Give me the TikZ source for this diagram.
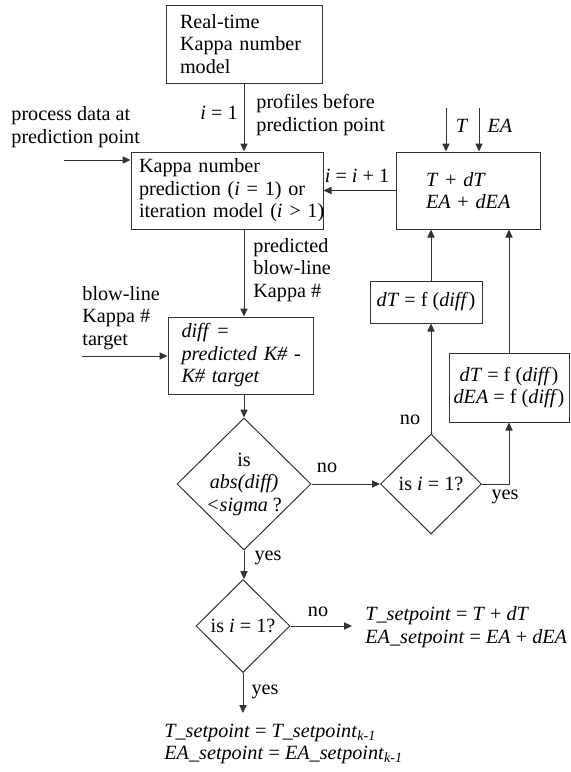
\documentclass[tikz,border=0pt]{standalone}
\usepackage{fontspec}
\setmainfont{Liberation Serif}
\usetikzlibrary{arrows.meta,calc,positioning,shapes.geometric}

\begin{document}
\begin{tikzpicture}[x=0.5pt,y=-0.5pt,
  font=\fontsize{10.1}{11.25}\selectfont,
  blk/.style={draw=black!80,line width=0.5pt,inner sep=0pt,align=left},
  dia/.style={draw=black!80,line width=0.5pt,shape=diamond,aspect=1,inner sep=-2pt,align=center},
  lbl/.style={inner sep=0pt,align=left},
  flow/.style={draw=black!80,line width=0.5pt,-{Triangle[length=4pt,width=3.6pt]}}]
  \useasboundingbox (0,0) rectangle (571,772);
  % boxes
  \node[blk,minimum width=78pt,minimum height=39pt,text width=64pt] (model) at (244,44) {Real-time\\\mbox{Kappa number}\\model};
  \node[blk,minimum width=96pt,minimum height=38.5pt,text width=88pt] (kappa) at (227,190.5) {Kappa number\\\mbox{prediction (\textit{i} = 1) or}\\\mbox{iteration model (\textit{i} > 1)}};
  \node[blk,minimum width=72pt,minimum height=38.5pt,text width=42pt] (upd) at (468,190.5) {\mbox{\textit{T} + \textit{dT}}\\\mbox{\textit{EA} + \textit{dEA}}};
  \node[blk,minimum width=72.5pt,minimum height=38.5pt,text width=59pt] (diff) at (240.5,355.5) {\textit{diff} =\\\mbox{\textit{predicted K\# -}}\\\textit{K\# target}};
  \node[blk,align=center,minimum width=56pt,minimum height=21pt] (dT) at (426,302) {\textit{dT} = f (\textit{diff})};
  \node[blk,align=center,minimum width=60pt,minimum height=34.5pt] (dTdEA) at (509,387.5) {\textit{dT} = f (\textit{diff})\\\textit{dEA} = f (\textit{diff})};
  % decisions
  \node[dia,minimum width=67pt,minimum height=66pt] (chk) at (244,484) {is\\\textit{abs(diff)}\\\textit{<sigma} ?};
  \node[dia,minimum width=50.5pt,minimum height=50pt] (first) at (431,484) {is \textit{i} = 1?};
  \node[dia,minimum width=47pt,minimum height=46.5pt] (last) at (243,626) {is \textit{i} = 1?};
  % free ends
  \coordinate (pd) at (64,160);
  \coordinate (bl) at (82,356);
  \coordinate (setp) at (352,626);
  \coordinate (hold) at (243,713);
  \foreach \x/\n in {446/tin,479/eain} \coordinate (\n) at (\x,108);
  % connectors
  \draw[flow] (model.south) -- (model.south |- kappa.north);
  \draw[flow] (pd) -- (pd -| kappa.west);
  \draw[flow] (upd.west) -- (kappa.east);
  \foreach \n in {tin,eain} \draw[flow] (\n) -- (\n |- upd.north);
  \draw[flow] (model.south |- kappa.south) -- (model.south |- diff.north);
  \draw[flow] (bl) -- (bl -| diff.west);
  \draw[flow] (chk.north |- diff.south) -- (chk.north);
  \draw[flow] (chk.east) -- (first.west);
  \draw[flow] (first.north) -- (first.north |- dT.south);
  \draw[flow] (first.north |- dT.north) -- (first.north |- upd.south);
  \draw[flow] (first.east) -| (dTdEA.south);
  \draw[flow] (dTdEA.north) -- (dTdEA.north |- upd.south);
  \draw[flow] (chk.south) -- (chk.south |- last.north);
  \draw[flow] (last.east) -- (setp);
  \draw[flow] (last.south) -- (hold);
  % labels
  \node[lbl,anchor=east] (i1) at (238,113) {\textit{i} = 1};
  \node[lbl,anchor=west] (prof) at (256,115) {profiles before\\prediction point};
  \node[lbl,anchor=west] (pdlab) at (11,127) {process data at\\prediction point};
  \node[lbl,anchor=west] (pred) at (253,270) {predicted\\blow-line\\Kappa \#};
  \node[lbl,anchor=west] (bllab) at (82,318) {blow-line\\Kappa \#\\target};
  \node[lbl] (inc) at (357,176) {\textit{i} = \textit{i} + 1};
  \node[lbl] (tlab) at (462,126) {\textit{T}};
  \node[lbl] (ealab) at (500,126) {\textit{EA}};
  \node[lbl] (no1) at (327,468) {no};
  \node[lbl] (no2) at (410,420) {no};
  \node[lbl] (yes1) at (505,497) {yes};
  \node[lbl] (yes2) at (268,558) {yes};
  \node[lbl] (no3) at (318,612) {no};
  \node[lbl] (yes3) at (265,692) {yes};
  \node[lbl,anchor=west] (newsp) at (365,627) {\textit{T\_setpoint} = \textit{T} + \textit{dT}\\\textit{EA\_setpoint} = \textit{EA} + \textit{dEA}};
  \node[lbl,anchor=west] (oldsp) at (164,744) {\textit{T\_setpoint} = \textit{T\_setpoint}\textsubscript{\textit{k-1}}\\\textit{EA\_setpoint} = \textit{EA\_setpoint}\textsubscript{\textit{k-1}}};
\end{tikzpicture}
\end{document}
